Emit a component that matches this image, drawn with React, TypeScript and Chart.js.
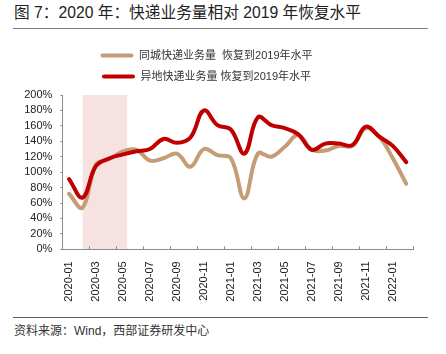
import React, { useEffect, useRef } from 'react';
import { Chart, registerables } from 'chart.js';

Chart.register(...registerables);

const categories = [
  '2020-01', '2020-02', '2020-03', '2020-04', '2020-05', '2020-06', '2020-07', '2020-08', '2020-09', '2020-10', '2020-11', '2020-12',
  '2021-01', '2021-02', '2021-03', '2021-04', '2021-05', '2021-06', '2021-07', '2021-08', '2021-09', '2021-10', '2021-11', '2021-12',
  '2022-01', '2022-02',
];

const sameCityName = '同城快递业务量  恢复到2019年水平';
const sameCity = [72, 54, 110, 117, 127, 129, 115, 118, 124, 107, 130, 122, 118, 66, 124, 120, 133, 148, 129, 128, 134, 134, 157, 146, 118, 85];

const interCityName = '异地快递业务量 恢复到2019年水平';
const interCity = [91, 67, 108, 118, 123, 127, 130, 143, 138, 145, 180, 161, 155, 124, 171, 161, 157, 149, 129, 137, 137, 135, 159, 146, 134, 113];

const yMin = 0;
const yMax = 200;
const yStep = 20;

// shaded period expressed in category positions (2020-02 .. early 2020-05)
const shadeStart = 1;
const shadeEnd = 4.3;

const FONT = '"Liberation Sans", Arial, "Noto Sans CJK SC", sans-serif';
const TAN = '#C49C75';
const RED = '#C00000';
const AXIS = '#8c8c8c';

const CANVAS_H = 300;

const shadePlugin = {
  id: 'shade',
  beforeDraw(chart: any) {
    const { ctx, scales } = chart;
    const x = scales.x;
    const y = scales.y;
    const x0 = x.getPixelForValue(shadeStart);
    const x1 = x.getPixelForValue(shadeEnd);
    const y0 = y.getPixelForValue(yMax);
    const y1 = y.getPixelForValue(yMin);
    ctx.save();
    ctx.fillStyle = '#F7E2E2';
    ctx.fillRect(x0, y0, x1 - x0, y1 - y0);
    ctx.restore();
  },
  beforeDatasetsDraw(chart: any) {
    const { ctx, scales } = chart;
    const x = scales.x;
    const bottom = chart.chartArea.bottom;
    ctx.save();
    ctx.strokeStyle = AXIS;
    ctx.lineWidth = 1;
    for (let i = 0; i <= categories.length; i += 2) {
      const px = Math.round(x.getPixelForValue(i - 0.5)) + 0.5;
      ctx.beginPath();
      ctx.moveTo(px, bottom);
      ctx.lineTo(px, bottom - 3);
      ctx.stroke();
    }
    ctx.restore();
  },
};

const legendSpacing = {
  id: 'legendSpacing',
  beforeLayout(chart: any) {
    const legend = chart.legend;
    if (legend && !legend._patched) {
      const orig = legend.fit;
      legend.fit = function () {
        orig.call(this);
        this.height += 3;
      };
      legend._patched = true;
    }
  },
};

function App() {
  const ref = useRef<HTMLCanvasElement>(null);

  useEffect(() => {
    if (!ref.current) return;
    const chart = new Chart(ref.current, {
      type: 'line',
      data: {
        labels: categories,
        datasets: [
          {
            label: interCityName,
            data: interCity,
            borderColor: RED,
            backgroundColor: RED,
            borderWidth: 4,
            pointRadius: 0,
            tension: 0.4,
            borderCapStyle: 'round',
            borderJoinStyle: 'round',
          },
          {
            label: sameCityName,
            data: sameCity,
            borderColor: TAN,
            backgroundColor: TAN,
            borderWidth: 4,
            pointRadius: 0,
            tension: 0.4,
            borderCapStyle: 'round',
            borderJoinStyle: 'round',
          },
        ],
      },
      options: {
        animation: false,
        responsive: false,
        maintainAspectRatio: false,
        layout: { padding: { left: 0, right: 33, top: 0, bottom: 0 } },
        plugins: {
          tooltip: { enabled: false },
          legend: {
            display: true,
            position: 'top',
            maxWidth: 300,
            labels: {
              boxWidth: 33,
              boxHeight: 4,
              padding: 10,
              color: '#333',
              font: { family: FONT, size: 11 },
              sort: (a: any, b: any) => b.datasetIndex - a.datasetIndex,
              generateLabels: (c: any) =>
                c.data.datasets.map((ds: any, i: number) => ({
                  text: ds.label,
                  fillStyle: ds.borderColor,
                  strokeStyle: ds.borderColor,
                  lineWidth: 0,
                  fontColor: '#333',
                  hidden: false,
                  datasetIndex: i,
                  borderRadius: 2,
                })),
              useBorderRadius: true,
              borderRadius: 2,
            },
          },
        },
        scales: {
          x: {
            type: 'category',
            offset: true,
            grid: { display: false, offset: true },
            border: { display: true, color: AXIS, width: 1 },
            ticks: {
              autoSkip: false,
              minRotation: 90,
              maxRotation: 90,
              padding: 4,
              color: '#222',
              font: { family: FONT, size: 11 },
              callback: (_v: any, i: number) => (i % 2 === 0 ? categories[i] : ''),
            },
            afterFit: (s: any) => {
              s.height = CANVAS_H - 209.3;
            },
          },
          y: {
            min: yMin,
            max: yMax,
            grid: { display: true, drawOnChartArea: false, drawTicks: true, tickLength: 2, color: AXIS },
            border: { display: true, color: AXIS, width: 1 },
            ticks: {
              stepSize: yStep,
              autoSkip: false,
              padding: 8,
              color: '#222',
              font: { family: FONT, size: 11 },
              callback: (v: any) => v + '%',
            },
            afterFit: (s: any) => {
              s.width = 62.3;
            },
          },
        },
      },
      plugins: [shadePlugin, legendSpacing],
    } as any);
    return () => chart.destroy();
  }, []);

  return (
    <div style={{ position: 'absolute', left: 0, top: 0, width: 446, height: 354, background: '#fff', fontFamily: FONT }}>
      <div
        style={{
          position: 'absolute',
          left: 14,
          top: 2,
          fontSize: 15.7,
          lineHeight: '22px',
          color: '#222',
          whiteSpace: 'nowrap',
        }}
      >
        图 7：2020 年：快递业务量相对 2019 年恢复水平
      </div>
      <div style={{ position: 'absolute', left: 13, top: 28, width: 415, height: 1, background: '#808080' }} />
      <div style={{ position: 'absolute', left: 13, top: 317, width: 415, height: 1, background: '#606060' }} />
      <div
        style={{
          position: 'absolute',
          left: 14,
          top: 323,
          fontSize: 12,
          lineHeight: '16px',
          color: '#333',
          whiteSpace: 'nowrap',
        }}
      >
        资料来源：Wind，西部证券研发中心
      </div>
      <canvas ref={ref} width={446} height={CANVAS_H} style={{ position: 'absolute', left: 0, top: 40, width: 446, height: CANVAS_H }} />
    </div>
  );
}

export default App;
